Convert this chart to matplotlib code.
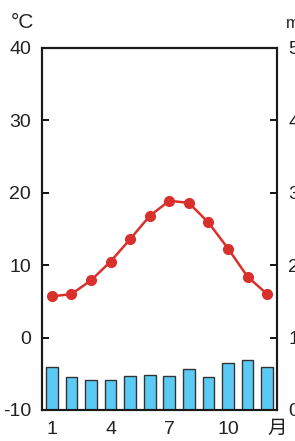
import matplotlib
matplotlib.use("Agg")
import matplotlib.pyplot as plt

plt.rcParams['font.family'] = ['Liberation Sans', 'Noto Sans CJK SC', 'DejaVu Sans']
plt.rcParams['axes.unicode_minus'] = False

# Data
months = [1, 2, 3, 4, 5, 6, 7, 8, 9, 10, 11, 12]
temp = [5.7, 6.0, 7.9, 10.5, 13.6, 16.8, 18.9, 18.6, 15.9, 12.3, 8.4, 6.0]
precip = [59, 46, 41, 42, 47, 49, 47, 57, 46, 65, 69, 60]

xtick_pos = [1, 4, 7, 10, 12.5]
xtick_labels = ['1', '4', '7', '10', '月']

fig = plt.figure(figsize=(2.95, 4.41), dpi=100)
ax = fig.add_axes([42 / 295, 31 / 441, 235 / 295, 362 / 441])
ax2 = ax.twinx()

# precipitation bars (right axis)
ax2.bar(months, precip, width=0.6, color='#5bcbf5', edgecolor='#333333', linewidth=1.0)
ax2.set_ylim(0, 500)
ax2.set_yticks([0, 100, 200, 300, 400, 500])

# temperature line (left axis), drawn above bars
ax.set_zorder(ax2.get_zorder() + 1)
ax.patch.set_visible(False)
ax.plot(months, temp, color='#d9302c', linewidth=1.8, marker='o', markersize=7)
ax.set_ylim(-10, 40)
ax.set_yticks([-10, 0, 10, 20, 30, 40])
ax.set_xlim(0.5, 12.5)
ax.set_xticks(xtick_pos)
ax.set_xticklabels(xtick_labels)

for a in (ax, ax2):
    for s in a.spines.values():
        s.set_linewidth(1.5)
        s.set_color('#1a1a1a')
ax.tick_params(axis='y', direction='in', length=5, width=1.3, labelsize=14, pad=8,
               labelcolor='#222222')
ax2.tick_params(axis='y', direction='in', length=5, width=1.3, labelsize=14, pad=8,
                labelcolor='#222222')
ax.tick_params(axis='x', length=0, labelsize=14, pad=8, labelcolor='#222222')

fig.text(11 / 295, 1 - 28 / 441, '°C', fontsize=15, ha='left', va='baseline', color='#222222')
fig.text(286 / 295, 1 - 28 / 441, 'mm', fontsize=12, ha='left', va='baseline', color='#222222')

fig.savefig('out.png', dpi=100)
